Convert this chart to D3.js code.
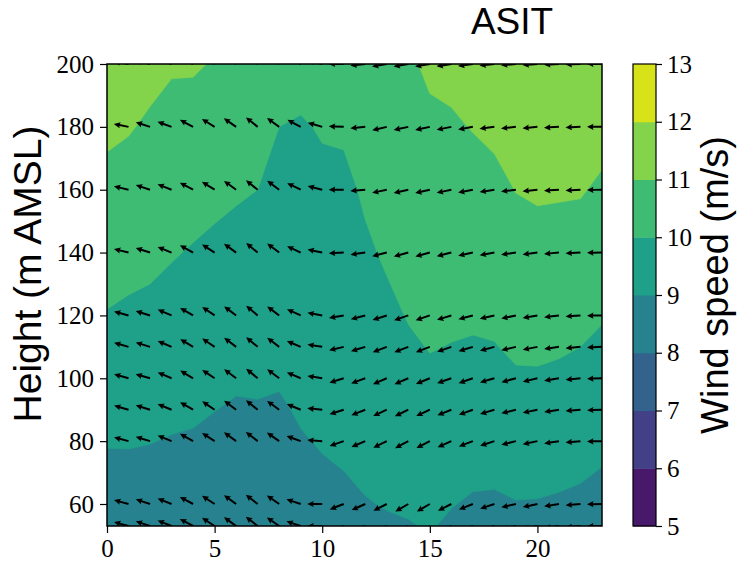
<!DOCTYPE html>
<html>
<head>
<meta charset="utf-8">
<script src="https://cdn.jsdelivr.net/npm/d3@7"></script>
<style>
body { margin: 0; background: #fff; }
</style>
</head>
<body>
<div id="chart"></div>
<script>
// hours of the day and measurement heights (m AMSL)
var hours = [0, 1, 2, 3, 4, 5, 6, 7, 8, 9, 10, 11, 12, 13, 14, 15, 16, 17, 18, 19, 20, 21, 22, 23];
var heights = [53, 60, 80, 90, 100, 110, 120, 140, 160, 180, 200];
var levels = [5, 6, 7, 8, 9, 10, 11, 12, 13];
var xTickValues = [0, 5, 10, 15, 20];
var yTickValues = [60, 80, 100, 120, 140, 160, 180, 200];

// wind speed (m/s), one profile per hour, bottom to top
var speedByHour = [
  [8.50, 8.60, 9.05, 9.28, 9.51, 9.73, 9.96, 10.36, 10.76, 11.16, 11.56],
  [8.50, 8.65, 9.05, 9.26, 9.46, 9.66, 9.87, 10.27, 10.66, 11.06, 11.50],
  [8.50, 8.62, 9.02, 9.22, 9.42, 9.61, 9.82, 10.18, 10.53, 10.88, 11.25],
  [8.50, 8.58, 8.96, 9.15, 9.33, 9.51, 9.69, 10.06, 10.40, 10.74, 11.08],
  [8.50, 8.58, 8.93, 9.10, 9.27, 9.44, 9.60, 9.94, 10.32, 10.70, 11.08],
  [8.45, 8.53, 8.85, 9.01, 9.18, 9.34, 9.51, 9.83, 10.20, 10.57, 10.95],
  [8.40, 8.48, 8.77, 8.93, 9.09, 9.26, 9.42, 9.74, 10.09, 10.49, 10.90],
  [8.40, 8.48, 8.80, 8.95, 9.10, 9.25, 9.40, 9.70, 10.00, 10.44, 10.88],
  [8.45, 8.54, 8.81, 8.93, 9.05, 9.17, 9.29, 9.53, 9.76, 10.00, 10.60],
  [8.60, 8.69, 8.96, 9.06, 9.16, 9.26, 9.35, 9.55, 9.74, 9.93, 10.30],
  [8.75, 8.84, 9.04, 9.14, 9.24, 9.33, 9.43, 9.63, 9.83, 10.06, 10.40],
  [8.83, 8.90, 9.09, 9.19, 9.29, 9.39, 9.48, 9.65, 9.81, 10.11, 10.45],
  [8.90, 8.97, 9.20, 9.31, 9.42, 9.54, 9.65, 9.88, 10.11, 10.36, 10.60],
  [8.93, 9.03, 9.29, 9.43, 9.56, 9.70, 9.83, 10.10, 10.37, 10.64, 10.90],
  [8.96, 9.09, 9.41, 9.58, 9.74, 9.90, 10.04, 10.27, 10.50, 10.73, 10.93],
  [9.05, 9.12, 9.49, 9.68, 9.88, 10.03, 10.15, 10.40, 10.64, 10.91, 11.08],
  [8.89, 9.03, 9.41, 9.60, 9.80, 9.98, 10.12, 10.38, 10.65, 10.91, 11.20],
  [8.80, 8.92, 9.33, 9.53, 9.74, 9.94, 10.10, 10.41, 10.71, 11.03, 11.35],
  [8.75, 8.90, 9.33, 9.54, 9.76, 9.97, 10.14, 10.43, 10.76, 11.18, 11.50],
  [8.80, 8.97, 9.45, 9.68, 9.92, 10.11, 10.29, 10.65, 11.02, 11.43, 11.70],
  [8.80, 8.96, 9.44, 9.68, 9.92, 10.13, 10.32, 10.71, 11.10, 11.48, 11.75],
  [8.75, 8.91, 9.39, 9.63, 9.87, 10.08, 10.28, 10.68, 11.08, 11.43, 11.70],
  [8.70, 8.85, 9.31, 9.54, 9.77, 10.00, 10.21, 10.64, 11.06, 11.38, 11.65],
  [8.60, 8.74, 9.18, 9.40, 9.63, 9.85, 10.06, 10.47, 10.87, 11.28, 11.60]
];

// wind direction (deg, coming from), one row per height, hours 0-23
var dirByHeight = [
  [105, 105, 108, 112, 118, 123, 126, 128, 125, 108, 90, 69, 66, 63, 60, 60, 63, 68, 72, 77, 78, 81, 85, 89],
  [105, 105, 108, 112, 118, 123, 126, 128, 125, 108, 90, 69, 66, 63, 60, 60, 63, 68, 72, 77, 78, 81, 85, 89],
  [105, 105, 107, 112, 119, 123, 126, 128, 125, 110, 94, 71, 67, 64, 62, 63, 66, 69, 72, 76, 78, 81, 85, 89],
  [106, 106, 107, 112, 120, 124, 127, 129, 126, 112, 96, 72, 68, 65, 64, 65, 68, 70, 73, 76, 78, 81, 85, 88],
  [106, 106, 106, 113, 121, 124, 127, 130, 127, 113, 99, 73, 70, 67, 67, 68, 71, 71, 74, 75, 77, 81, 84, 88],
  [105, 106, 107, 113, 121, 124, 127, 130, 127, 113, 99, 77, 73, 69, 69, 69, 71, 73, 75, 77, 79, 82, 85, 88],
  [105, 105, 107, 113, 120, 124, 127, 130, 127, 114, 100, 80, 75, 72, 71, 71, 73, 75, 77, 78, 80, 83, 86, 89],
  [103, 104, 108, 112, 119, 123, 126, 130, 127, 115, 102, 87, 82, 76, 75, 75, 76, 78, 80, 82, 83, 85, 87, 89],
  [102, 103, 108, 111, 118, 122, 126, 129, 127, 116, 104, 90, 85, 78, 77, 77, 78, 79, 81, 83, 84, 86, 87, 89],
  [100, 101, 108, 110, 118, 122, 125, 129, 126, 118, 106, 92, 85, 77, 78, 78, 79, 80, 83, 84, 85, 87, 88, 90],
  [100, 100, 105, 108, 115, 120, 123, 126, 124, 116, 104, 90, 84, 80, 80, 80, 81, 82, 84, 85, 86, 87, 88, 90]
];

var width = 743, height = 563;
var plot = {left: 107, right: 602, top: 64, bottom: 526};
var cbar = {left: 633, right: 656};
var sans = "'Liberation Sans', Arial, sans-serif",
    serif = "'Liberation Serif', 'Times New Roman', serif";

var svg = d3.select("#chart")
  .append("svg")
  .attr("width", width)
  .attr("height", height);

var x = d3.scaleLinear().domain([0, 23]).range([plot.left, plot.right]);
var y = d3.scaleLinear().domain([53, 200]).range([plot.bottom, plot.top]);
var color = d3.scaleSequential(d3.interpolateViridis).domain([5, 13]);

svg.append("clipPath")
  .attr("id", "plotclip")
  .append("rect")
  .attr("x", plot.left).attr("y", plot.top)
  .attr("width", plot.right - plot.left)
  .attr("height", plot.bottom - plot.top);

var inner = svg.append("g").attr("clip-path", "url(#plotclip)");

// filled contours
var nx = hours.length, ny = heights.length;
var grid = [];
for (var j = 0; j < ny; j++) {
  for (var i = 0; i < nx; i++) grid.push(speedByHour[i][j]);
}
var contours = d3.contours()
  .size([nx, ny])
  .thresholds(levels.slice(0, -1))(grid);

// grid row index -> height, linear between the measured levels
var rowHeight = d3.scaleLinear().domain(d3.range(ny)).range(heights);
var toScreen = d3.geoTransform({
  point: function(gx, gy) {
    this.stream.point(x(gx - 0.5), y(rowHeight(gy - 0.5)));
  }
});
var path = d3.geoPath(toScreen);

inner.selectAll("path.band")
  .data(contours)
  .enter()
  .append("path")
  .attr("class", "band")
  .attr("d", path)
  .attr("fill", d => color(d.value + 0.5))
  .attr("stroke", d => color(d.value + 0.5))
  .attr("stroke-width", 0.6);

// quiver arrows (unit length, tail at the grid point)
var L = 15, sw = 2, hl = 6.5, hal = 5.8, hw = 6.2;
var arrowShape = [[0, -sw / 2], [L - hal, -sw / 2], [L - hl, -hw / 2], [L, 0],
                  [L - hl, hw / 2], [L - hal, sw / 2], [0, sw / 2]];
var arrowPath = d3.line()(arrowShape) + "Z";

var arrows = [];
heights.forEach(function(z, j) {
  hours.forEach(function(h, i) {
    var rad = dirByHeight[j][i] * Math.PI / 180;
    var u = -Math.sin(rad), v = -Math.cos(rad);
    arrows.push({hour: h, z: z, angle: Math.atan2(-v, u) * 180 / Math.PI});
  });
});

inner.selectAll("path.arrow")
  .data(arrows)
  .enter()
  .append("path")
  .attr("class", "arrow")
  .attr("d", arrowPath)
  .attr("transform", d => "translate(" + x(d.hour) + "," + y(d.z) + ") rotate(" + d.angle + ")")
  .attr("fill", "#000");

// axes
var xAxis = svg.append("g")
  .attr("transform", "translate(0," + plot.bottom + ")")
  .call(d3.axisBottom(x).tickValues(xTickValues).tickSize(7).tickPadding(6));
var yAxis = svg.append("g")
  .attr("transform", "translate(" + plot.left + ",0)")
  .call(d3.axisLeft(y).tickValues(yTickValues).tickSize(7).tickPadding(6));

[xAxis, yAxis].forEach(function(g) {
  g.select(".domain").remove();
  g.selectAll(".tick line").attr("stroke", "#000").attr("stroke-width", 1.2);
  g.selectAll(".tick text")
    .attr("fill", "#000")
    .style("font-family", serif)
    .style("font-size", "25px");
});

svg.append("rect")
  .attr("x", plot.left).attr("y", plot.top)
  .attr("width", plot.right - plot.left)
  .attr("height", plot.bottom - plot.top)
  .attr("fill", "none")
  .attr("stroke", "#000")
  .attr("stroke-width", 1.5);

// colorbar
var yc = d3.scaleLinear().domain([5, 13]).range([plot.bottom, plot.top]);
svg.selectAll("rect.cb")
  .data(levels.slice(0, -1))
  .enter()
  .append("rect")
  .attr("class", "cb")
  .attr("x", cbar.left)
  .attr("width", cbar.right - cbar.left)
  .attr("y", d => yc(d + 1))
  .attr("height", d => yc(d) - yc(d + 1) + 0.5)
  .attr("fill", d => color(d + 0.5));

var cAxis = svg.append("g")
  .attr("transform", "translate(" + cbar.right + ",0)")
  .call(d3.axisRight(yc).tickValues(levels).tickSize(6).tickPadding(5));
cAxis.select(".domain").remove();
cAxis.selectAll(".tick line").attr("stroke", "#000").attr("stroke-width", 1.2);
cAxis.selectAll(".tick text")
  .attr("fill", "#000")
  .style("font-family", serif)
  .style("font-size", "25px");

svg.append("rect")
  .attr("x", cbar.left).attr("y", plot.top)
  .attr("width", cbar.right - cbar.left)
  .attr("height", plot.bottom - plot.top)
  .attr("fill", "none")
  .attr("stroke", "#000")
  .attr("stroke-width", 1.2);

// labels
svg.append("text")
  .attr("x", 512)
  .attr("y", 34)
  .attr("text-anchor", "middle")
  .style("font-family", sans)
  .style("font-size", "37px")
  .text("ASIT");

svg.append("text")
  .attr("transform", "translate(41,274) rotate(-90)")
  .attr("text-anchor", "middle")
  .style("font-family", sans)
  .style("font-size", "39px")
  .text("Height (m AMSL)");

svg.append("text")
  .attr("transform", "translate(728,285) rotate(-90)")
  .attr("text-anchor", "middle")
  .style("font-family", sans)
  .style("font-size", "38px")
  .text("Wind speed (m/s)");
</script>
</body>
</html>
